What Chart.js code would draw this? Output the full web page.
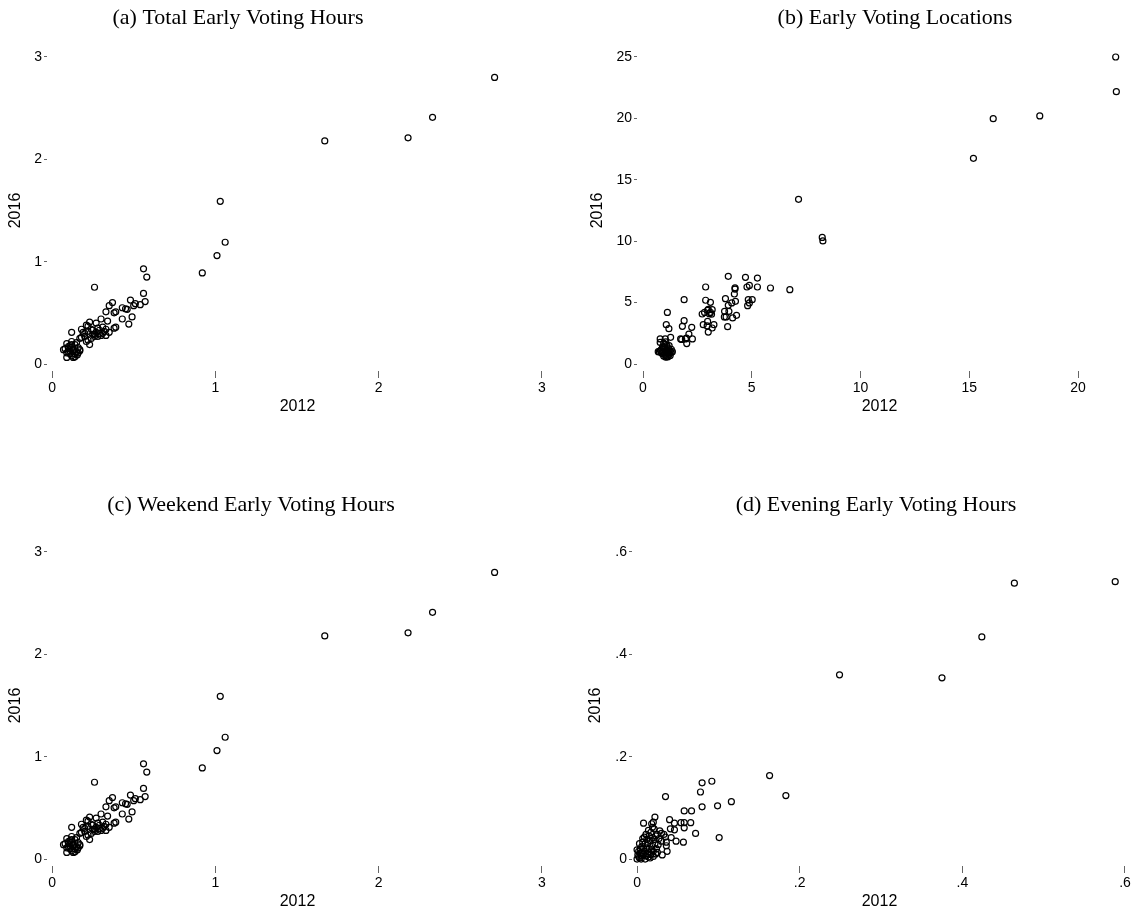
<!DOCTYPE html>
<html>
<head>
<meta charset="utf-8">
<script src="https://cdn.jsdelivr.net/npm/chart.js@4"></script>
<style>
  body { margin: 0; background: #fff; }
  #wrap { position: relative; width: 1138px; height: 916px; }
  canvas { position: absolute; }
</style>
</head>
<body>
<div id="wrap">
  <canvas id="chartA" width="569" height="421" style="left:0;top:0"></canvas>
  <canvas id="chartB" width="568" height="421" style="left:570px;top:0"></canvas>
  <canvas id="chartC" width="569" height="421" style="left:0;top:495px"></canvas>
  <canvas id="chartD" width="568" height="421" style="left:570px;top:495px"></canvas>
</div>
<script>
// [2012, 2016] pairs
const totalHours = [
  [2.71, 2.80], [2.33, 2.41], [2.18, 2.21], [1.67, 2.18], [1.03, 1.59], [1.06, 1.19], [1.01, 1.06], [0.92, 0.89],
  [0.56, 0.93], [0.58, 0.85], [0.26, 0.75], [0.56, 0.69], [0.57, 0.61], [0.54, 0.58], [0.51, 0.59], [0.50, 0.57],
  [0.48, 0.625], [0.49, 0.46], [0.47, 0.39], [0.43, 0.44], [0.43, 0.55], [0.45, 0.54], [0.46, 0.535], [0.39, 0.51],
  [0.38, 0.50], [0.37, 0.60], [0.35, 0.57], [0.33, 0.51], [0.34, 0.42], [0.39, 0.36], [0.38, 0.35], [0.30, 0.44],
  [0.27, 0.40], [0.28, 0.35], [0.29, 0.33], [0.31, 0.36], [0.32, 0.32], [0.33, 0.34], [0.35, 0.31], [0.33, 0.28],
  [0.30, 0.28], [0.29, 0.30], [0.31, 0.30], [0.27, 0.31], [0.26, 0.29], [0.23, 0.41], [0.21, 0.38], [0.22, 0.37],
  [0.18, 0.34], [0.19, 0.31], [0.22, 0.32], [0.24, 0.34], [0.25, 0.29], [0.26, 0.27], [0.24, 0.25], [0.22, 0.235],
  [0.20, 0.27], [0.17, 0.25], [0.23, 0.19], [0.21, 0.22], [0.18, 0.26], [0.25, 0.33], [0.28, 0.27], [0.20, 0.30],
  [0.12, 0.31], [0.09, 0.20], [0.07, 0.14], [0.08, 0.15], [0.10, 0.12], [0.11, 0.18], [0.12, 0.16], [0.13, 0.14],
  [0.14, 0.19], [0.15, 0.21], [0.16, 0.16], [0.17, 0.14], [0.09, 0.065], [0.13, 0.065], [0.155, 0.09], [0.14, 0.10],
  [0.11, 0.10], [0.12, 0.08], [0.10, 0.15], [0.13, 0.12], [0.15, 0.12], [0.11, 0.13], [0.12, 0.19], [0.16, 0.11],
  [0.14, 0.07], [0.09, 0.11], [0.17, 0.13], [0.12, 0.22], [0.10, 0.17]
];

const locations = [
  [21.73, 25.0], [21.76, 22.18], [18.24, 20.2], [16.1, 19.98], [15.19, 16.75], [7.15, 13.41], [8.24, 10.31], [8.27, 10.02],
  [6.75, 6.05], [5.86, 6.19], [5.26, 7.0], [5.26, 6.27], [4.71, 7.06], [4.78, 6.27], [4.89, 6.4], [3.92, 7.14],
  [2.88, 6.27], [1.89, 5.24], [1.12, 4.2], [1.07, 3.2], [1.19, 2.88], [1.27, 2.17],
  [4.23, 6.2], [4.23, 6.1], [4.2, 5.7], [4.25, 5.1], [4.08, 4.97], [3.79, 5.32], [3.92, 4.78], [3.95, 4.29],
  [3.75, 4.29], [3.74, 3.83], [3.82, 3.83], [4.3, 3.96], [4.12, 3.75], [3.89, 3.04], [4.84, 5.24], [5.02, 5.24],
  [4.89, 4.97], [4.81, 4.75], [2.88, 5.19], [3.1, 5.02], [2.72, 4.07], [2.83, 4.2], [2.97, 4.37], [3.1, 4.2],
  [3.18, 4.42], [3.05, 4.1], [2.77, 3.2], [2.97, 3.47], [3.0, 2.6], [3.18, 2.93], [3.26, 3.2], [3.0, 4.45],
  [3.15, 4.05], [2.95, 3.1], [1.81, 3.07], [1.89, 3.53], [2.24, 2.99], [1.73, 2.04], [1.95, 2.04], [2.11, 2.44],
  [2.01, 1.66], [2.27, 2.04], [2.0, 2.1], [1.78, 2.0], [0.79, 2.04], [0.79, 1.76], [1.02, 2.04],
  [0.70, 1.0], [0.75, 1.0], [0.9, 1.4], [0.95, 1.7], [1.0, 1.6], [1.1, 1.5], [1.15, 1.3], [1.2, 1.2],
  [1.25, 1.0], [1.3, 0.95], [1.05, 1.1], [1.0, 0.8], [0.95, 0.65], [1.05, 0.55], [1.15, 0.6], [1.25, 0.7],
  [1.1, 0.9], [0.9, 0.85], [1.2, 1.5], [0.85, 1.2], [1.35, 1.0], [1.0, 1.2], [1.2, 0.8],
  [0.8, 1.1], [0.9, 1.0], [1.0, 1.4], [1.05, 0.7], [1.1, 1.1], [1.15, 0.9], [1.2, 1.05], [0.95, 1.3],
  [1.05, 1.8], [1.3, 1.2], [1.1, 0.6], [0.85, 0.9]
];

// weekend hours plot shows the same values as total hours in the source figure
const weekendHours = totalHours;

const eveningHours = [
  [0.588, 0.542], [0.464, 0.539], [0.424, 0.434], [0.375, 0.354], [0.249, 0.360], [0.163, 0.163], [0.183, 0.124],
  [0.092, 0.152], [0.080, 0.149], [0.078, 0.131], [0.080, 0.102], [0.099, 0.104], [0.116, 0.112], [0.035, 0.122],
  [0.058, 0.094], [0.067, 0.094], [0.040, 0.077], [0.046, 0.070], [0.054, 0.071], [0.058, 0.071], [0.066, 0.071],
  [0.058, 0.061], [0.041, 0.059], [0.046, 0.057], [0.072, 0.050], [0.101, 0.042], [0.048, 0.035], [0.057, 0.033],
  [0.042, 0.042], [0.008, 0.070], [0.022, 0.082], [0.020, 0.072], [0.018, 0.069], [0.014, 0.056], [0.021, 0.059],
  [0.025, 0.048], [0.033, 0.048], [0.030, 0.050], [0.035, 0.043], [0.036, 0.033], [0.036, 0.026], [0.037, 0.015],
  [0.031, 0.008], [0.025, 0.013],
  [0.0, 0.0], [0.002, 0.005], [0.004, 0.012], [0.0, 0.018], [0.006, 0.025], [0.008, 0.02], [0.01, 0.03],
  [0.012, 0.038], [0.015, 0.045], [0.013, 0.01], [0.016, 0.002], [0.02, 0.005], [0.018, 0.025], [0.022, 0.03],
  [0.024, 0.02], [0.027, 0.04], [0.01, 0.0], [0.005, 0.0], [0.003, 0.03], [0.009, 0.015], [0.02, 0.015],
  [0.026, 0.028], [0.03, 0.035], [0.015, 0.02], [0.011, 0.048], [0.017, 0.052], [0.007, 0.04], [0.023, 0.045],
  [0.028, 0.055], [0.019, 0.062],
  [0.001, 0.008], [0.003, 0.002], [0.006, 0.006], [0.008, 0.01], [0.011, 0.006], [0.014, 0.014], [0.017, 0.009],
  [0.012, 0.022], [0.004, 0.02], [0.007, 0.033], [0.013, 0.03], [0.016, 0.036], [0.019, 0.042], [0.021, 0.038],
  [0.009, 0.043], [0.006, 0.012], [0.002, 0.015], [0.018, 0.018], [0.023, 0.01], [0.014, 0.004]
];

const hourTicks = [0, 1, 2, 3];
const hourLabels = ["0", "1", "2", "3"];
const locYTicks = [0, 5, 10, 15, 20, 25];
const locXTicks = [0, 5, 10, 15, 20];
const eveTicks = [0, 0.2, 0.4, 0.6];
const eveLabels = ["0", ".2", ".4", ".6"];

const panelTitle = {
  id: "panelTitle",
  afterDraw(chart, args, opts) {
    const ctx = chart.ctx;
    ctx.save();
    ctx.font = '22px "Liberation Serif"';
    ctx.fillStyle = "#000";
    ctx.textAlign = "center";
    ctx.textBaseline = "middle";
    ctx.fillText(opts.text, opts.x, opts.y);
    ctx.restore();
  },
};

function makeAxis(title, ticks, labels, min, max, size, tickLen) {
  return {
    type: "linear",
    min: min,
    max: max,
    afterBuildTicks: (s) => { s.ticks = ticks.map((v) => ({ value: v })); },
    afterFit: (s) => {
      if (s.isHorizontal()) s.height = size; else s.width = size;
    },
    border: { display: false },
    grid: { drawOnChartArea: false, drawTicks: true, tickLength: tickLen, color: "#666", lineWidth: 1 },
    ticks: {
      color: "#000",
      padding: 2,
      font: { family: "Liberation Sans", size: 14 },
      autoSkip: false,
      maxRotation: 0,
      callback: (v) => labels[ticks.indexOf(v)] ?? "",
    },
    title: {
      display: true,
      text: title,
      color: "#000",
      font: { family: "Liberation Sans", size: 16 },
      padding: { top: 3, bottom: 5 },
    },
  };
}

function makePanel(id, points, p) {
  return new Chart(document.getElementById(id), {
    type: "scatter",
    data: {
      datasets: [{
        data: points.map((d) => ({ x: d[0], y: d[1] })),
        pointRadius: 3,
        pointBorderWidth: 1.2,
        pointBorderColor: "#000",
        pointBackgroundColor: "rgba(0,0,0,0)",
      }],
    },
    options: {
      responsive: false,
      animation: false,
      layout: { padding: { left: p.padLeft, right: p.padRight, top: 50, bottom: 0 } },
      scales: {
        x: makeAxis("2012", p.xTicks, p.xLabels, p.xMin, p.xMax, 50, 7),
        y: makeAxis("2016", p.yTicks, p.yLabels, p.yMin, p.yMax, p.yWidth, 3),
      },
      plugins: {
        legend: { display: false },
        tooltip: { enabled: false },
        panelTitle: { text: p.title, x: p.titleX, y: p.titleY },
      },
    },
    plugins: [panelTitle],
  });
}

makePanel("chartA", totalHours, {
  title: "(a) Total Early Voting Hours", titleX: 238, titleY: 18,
  padLeft: 3, padRight: 21, yWidth: 44,
  xTicks: hourTicks, xLabels: hourLabels, xMin: -0.031, xMax: 3.037,
  yTicks: hourTicks, yLabels: hourLabels, yMin: -0.068, yMax: 3.068,
});

makePanel("chartB", locations, {
  title: "(b) Early Voting Locations", titleX: 325, titleY: 18,
  padLeft: 15, padRight: 16, yWidth: 52,
  xTicks: locXTicks, xLabels: locXTicks.map(String), xMin: -0.276, xMax: 22.02,
  yTicks: locYTicks, yLabels: locYTicks.map(String), yMin: -0.57, yMax: 25.57,
});

makePanel("chartC", weekendHours, {
  title: "(c) Weekend Early Voting Hours", titleX: 251, titleY: 10,
  padLeft: 3, padRight: 21, yWidth: 44,
  xTicks: hourTicks, xLabels: hourLabels, xMin: -0.031, xMax: 3.037,
  yTicks: hourTicks, yLabels: hourLabels, yMin: -0.068, yMax: 3.068,
});

makePanel("chartD", eveningHours, {
  title: "(d) Evening Early Voting Hours", titleX: 306, titleY: 10,
  padLeft: 13, padRight: 11, yWidth: 49,
  xTicks: eveTicks, xLabels: eveLabels, xMin: -0.0062, xMax: 0.6025,
  yTicks: eveTicks, yLabels: eveLabels, yMin: -0.0136, yMax: 0.6136,
});
</script>
</body>
</html>
